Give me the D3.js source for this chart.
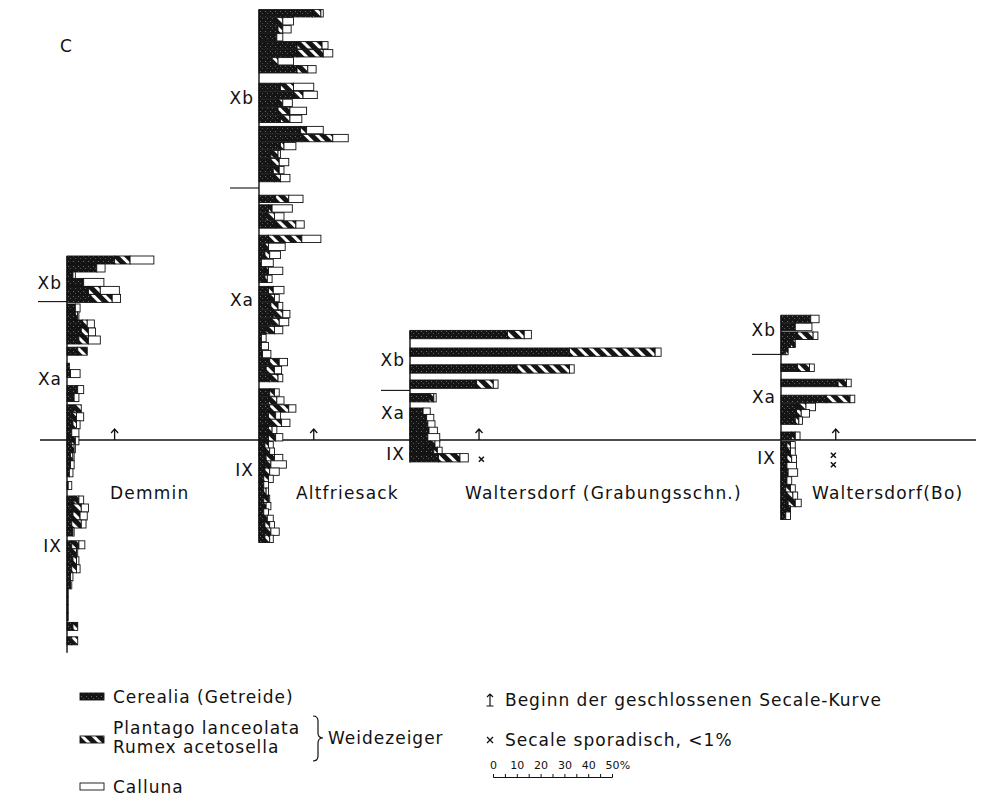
<!DOCTYPE html>
<html>
<head>
<meta charset="utf-8">
<script src="https://cdn.jsdelivr.net/npm/d3@7"></script>
<style>
  body { margin: 0; background: #fff; }
  svg text { font-family: "DejaVu Sans", sans-serif; fill: #111; }
</style>
</head>
<body>
<div id="chart"></div>
<script>
"use strict";

// depth in cm relative to the correlation line (positive = downwards), values in %
const demminDepth = [-115,-110,-105,-101,-96,-91,-85,-80,-75,-70,-65,-58,-48,-44,-34,-29,-22,-17,-12,-7,-2,3,8,13,18,26,35,40,45,50,55,63,68,73,78,83,88,93,98,103,108,114,123];
const demminCerealia = [20,12.5,2.5,7,9,10,3.5,3.5,6.5,6,5,4.5,1,1.5,4.5,3,3,2,2.5,2,2,2,1.5,1.5,1,0.5,3,2.5,2.5,2,2.5,2,2,2.5,2,1.5,1.5,0.5,0.5,0.5,0.5,2.5,2];
const demminWeide = [6.5,0,0,0,5,9,0,1,2,3,4,4,0,0,0,0,3,2,1.5,0,1.5,1,1,0,0,0,2,3.5,3,4,0,3,2,1.5,2,0,0,0,0,0,0,2,2.5];
const demminCalluna = [10,3.5,1,8.5,8,3.5,2,0.5,3,3,5,0,0,4,2.5,2,0,3,1.5,3,1.5,0.5,0.5,1.5,1.5,1.5,2,3,3,2,0.5,2.5,0.5,1,1.5,1,0.5,0,0,0,0,0,0];

const altDepth = [-269,-264,-259,-254,-249,-244,-239,-234,-223,-218,-213,-208,-203,-196,-191,-186,-181,-176,-171,-166,-153,-147,-142,-137,-128,-123,-118,-113,-108,-103,-96,-91,-86,-81,-76,-71,-66,-61,-56,-51,-46,-41,-32,-27,-22,-17.5,-13,-8.5,-4,1,5,9,13,17.5,22,26,30,34.5,39,43,47,51,55,59.5];
const altCerealia = [22.5,7,8,7.5,16,16,5.5,16,9,14.5,8,8,9,17.5,18,9,5,5,6,6.5,7,4,3,7,4,2.5,2.5,1,2.5,2.5,4,4.5,5,6,5,3,1,1,1.5,4.5,3,4.5,4.5,4,4.5,4,4.5,4,4,2.5,2.5,3,3,2.5,2,2,2,2,2,2,2,2.5,2.5,2.5];
const altWeide = [3.5,3,2,0,10.5,11,2.5,4.5,5.5,4,2,5,4,2.5,13,1.5,3,3.5,2.5,2.5,5.5,1.5,3.5,8.5,14,1.5,2,0,1.5,1,2,2,3,4,3.5,3.5,0,0,0,4,3.5,3.5,2,3.5,8,3,5,1.5,3,1.5,2,3.5,2,2,2,0,1,2,1,0,1.5,2,2.5,2];
const altCalluna = [1,4.5,3.5,2.5,2.5,4,6.5,3.5,8.5,6,4,7,5,7,6.5,5,1,4,2,4,6,8.5,4,3.5,8,7,4.5,5,6,2,4.5,2,2,3,4,3.5,2,3,3.5,3.5,3,2,2,3,3,2,3.5,2,3,2,2,3.5,6.5,4,2,2,1,0.5,2,2,2.5,2,3.5,1.5];

const wgDepth = [-68.5,-57.5,-47,-37.5,-29,-20,-16,-12,-8,-4,0.5,4.5,8.5];
const wgCerealia = [41,67,45,28,8,5.5,7,7.5,8,7.5,8.5,10,12];
const wgWeide = [7,36,22,7,2,0,0,0,0,0,2,1.5,9];
const wgCalluna = [3,2.5,2,2,1,3,3,3,3.5,5,2,2,3.5];

const boDepth = [-78,-73,-67.5,-62.5,-58,-47.5,-38,-28,-23,-19,-14.5,-5,1,5,9.5,14,18,23,28,32.5,37,41,45];
const boCerealia = [12.5,6,7,4,2,7,24,19,7,6.5,6,4.5,2.5,2.5,2.5,2.5,3,2.5,2,2.5,3,2.5,2];
const boWeide = [0,0,6.5,2,1,5,3.5,10,3.5,2,1.5,1.5,1.5,1.5,2,0,0,0,2,2.5,3,1.5,0];
const boCalluna = [3.5,7,2,0,0,2,2,2,4,3.5,1.5,2,2,2,2,4,4,2,2,2,2.5,0,2];

const profileNames = ["Demmin", "Altfriesack", "Waltersdorf (Grabungsschn.)", "Waltersdorf(Bo)"];
const zoneNames = ["Xb", "Xa", "IX"];
const scaleTicks = [0, 10, 20, 30, 40, 50];

// layout
const width = 992, height = 797;
const baseY = 440;
const y = d3.scaleLinear().domain([0, 100]).range([baseY, baseY + 160]);
const pct = d3.scaleLinear().domain([0, 50]).range([0, 119]);

const profiles = [
  { name: profileNames[0], axisX: 67, depth: demminDepth, cer: demminCerealia, wei: demminWeide, cal: demminCalluna,
    thick: 5, extent: [-115, 133], boundary: -86.5, zones: [-98, -38, 66], labelX: 43, arrow: 20, crosses: [] },
  { name: profileNames[1], axisX: 259, depth: altDepth, cer: altCerealia, wei: altWeide, cal: altCalluna,
    thick: 4.6, extent: [-269, 64], boundary: -157.5, zones: [-214, -87.5, 19], labelX: 37, arrow: 23, crosses: [] },
  { name: profileNames[2], axisX: 410, depth: wgDepth, cer: wgCerealia, wei: wgWeide, cal: wgCalluna,
    thick: 5.2, extent: [-68.5, 14], boundary: -31, zones: [-50, -17, 9], labelX: 55, arrow: 29, crosses: [[30, 12]] },
  { name: profileNames[3], axisX: 781, depth: boDepth, cer: boCerealia, wei: boWeide, cal: boCalluna,
    thick: 4.7, extent: [-78, 50], boundary: -53.5, zones: [-69, -27, 11], labelX: 31, arrow: 23, crosses: [[22, 9.5], [22, 15.5]] }
];

const svg = d3.select("#chart").append("svg")
  .attr("width", width).attr("height", height);

// fill patterns
const defs = svg.append("defs");
const stip = defs.append("pattern").attr("id", "stipple")
  .attr("width", 5).attr("height", 5).attr("patternUnits", "userSpaceOnUse");
stip.append("rect").attr("width", 5).attr("height", 5).attr("fill", "#151515");
stip.append("rect").attr("x", 1).attr("y", 1).attr("width", 1).attr("height", 1).attr("fill", "#6a6a6a");
stip.append("rect").attr("x", 3).attr("y", 3).attr("width", 1).attr("height", 1).attr("fill", "#555");
const hatch = defs.append("pattern").attr("id", "hatch")
  .attr("width", 8).attr("height", 8).attr("patternUnits", "userSpaceOnUse")
  .attr("patternTransform", "rotate(-45)");
hatch.append("rect").attr("width", 8).attr("height", 8).attr("fill", "#151515");
hatch.append("rect").attr("width", 3).attr("height", 8).attr("fill", "#fff");

const fills = ["url(#stipple)", "url(#hatch)", "#fff"];

svg.append("text").attr("x", 60).attr("y", 52).attr("font-size", 17).text("C");

// correlation line
svg.append("line").attr("x1", 40).attr("x2", 976).attr("y1", baseY).attr("y2", baseY)
  .attr("stroke", "#111").attr("stroke-width", 1.3);

profiles.forEach(function (p) {
  const g = svg.append("g").attr("transform", "translate(" + p.axisX + ",0)");

  // stacked segments
  const segs = p.depth.flatMap(function (d, i) {
    const vals = [p.cer[i], p.wei[i], p.cal[i]];
    let acc = 0;
    return vals.map(function (v, k) {
      const s = { d: d, x0: acc, v: v, k: k };
      acc += v;
      return s;
    }).filter(function (s) { return s.v > 0; });
  });

  g.selectAll(".seg").data(segs).enter().append("rect")
    .attr("class", "seg")
    .attr("x", function (s) { return pct(s.x0); })
    .attr("y", function (s) { return y(s.d); })
    .attr("width", function (s) { return pct(s.v); })
    .attr("height", function (s) { return y(s.d + p.thick) - y(s.d); })
    .attr("fill", function (s) { return fills[s.k]; })
    .attr("stroke", "#111").attr("stroke-width", 0.9);

  // profile axis
  g.append("line").attr("x1", 0).attr("x2", 0)
    .attr("y1", y(p.extent[0])).attr("y2", y(p.extent[1]))
    .attr("stroke", "#111").attr("stroke-width", 1.4);

  // zone boundary
  g.append("line").attr("x1", -29).attr("x2", 0)
    .attr("y1", y(p.boundary)).attr("y2", y(p.boundary))
    .attr("stroke", "#111").attr("stroke-width", 1.1);

  // zone labels
  g.selectAll(".zone").data(zoneNames).enter().append("text")
    .attr("class", "zone")
    .attr("x", -5)
    .attr("y", function (z, i) { return y(p.zones[i]); })
    .attr("dy", "0.35em")
    .attr("text-anchor", "end")
    .attr("font-size", 17)
    .attr("letter-spacing", 1)
    .text(function (z) { return z; });

  // start of Secale curve
  const ax = pct(p.arrow);
  g.append("path")
    .attr("d", "M" + ax + "," + baseY + "V" + (baseY - 11) +
      "M" + (ax - 3.5) + "," + (baseY - 7) + "L" + ax + "," + (baseY - 11) + "L" + (ax + 3.5) + "," + (baseY - 7))
    .attr("fill", "none").attr("stroke", "#111").attr("stroke-width", 1.3);

  // sporadic Secale
  p.crosses.forEach(function (c) {
    const cx = pct(c[0]), cy = y(c[1]);
    g.append("path")
      .attr("d", "M" + (cx - 2.5) + "," + (cy - 2.5) + "L" + (cx + 2.5) + "," + (cy + 2.5) +
        "M" + (cx + 2.5) + "," + (cy - 2.5) + "L" + (cx - 2.5) + "," + (cy + 2.5))
      .attr("stroke", "#111").attr("stroke-width", 1.5);
  });

  // name
  g.append("text").attr("x", p.labelX).attr("y", 499)
    .attr("font-size", 17).attr("letter-spacing", 1.2)
    .text(p.name);
});

// legend
const legend = svg.append("g");
const legFont = 17;
const legItems = [
  { fill: fills[0], y: 693, lines: ["Cerealia (Getreide)"], base: [703] },
  { fill: fills[1], y: 736, lines: ["Plantago lanceolata", "Rumex acetosella"], base: [734, 753] },
  { fill: fills[2], y: 783, lines: ["Calluna"], base: [793] }
];
legItems.forEach(function (it) {
  legend.append("rect").attr("x", 80).attr("y", it.y).attr("width", 24).attr("height", 7)
    .attr("fill", it.fill).attr("stroke", "#111").attr("stroke-width", 0.9);
  it.lines.forEach(function (t, j) {
    legend.append("text").attr("x", 113).attr("y", it.base[j])
      .attr("font-size", legFont).attr("letter-spacing", 1).text(t);
  });
});
// brace
legend.append("path")
  .attr("d", "M313,716 Q318,716 318,721 V733 Q318,738 323,738 Q318,738 318,743 V756 Q318,761 313,761")
  .attr("fill", "none").attr("stroke", "#111").attr("stroke-width", 1.2);
legend.append("text").attr("x", 328).attr("y", 744).attr("font-size", legFont)
  .attr("letter-spacing", 1).text("Weidezeiger");

// symbols legend
legend.append("path")
  .attr("d", "M490,706V694M487,697L490,694L493,697M486.5,706H493.5")
  .attr("fill", "none").attr("stroke", "#111").attr("stroke-width", 1.2);
legend.append("text").attr("x", 505).attr("y", 706).attr("font-size", legFont)
  .attr("letter-spacing", 1).text("Beginn der geschlossenen Secale-Kurve");
legend.append("path")
  .attr("d", "M487,737L493,743M493,737L487,743")
  .attr("stroke", "#111").attr("stroke-width", 1.3);
legend.append("text").attr("x", 505).attr("y", 746).attr("font-size", legFont)
  .attr("letter-spacing", 1).text("Secale sporadisch, <1%");

// percentage scale bar
const sb = legend.append("g").attr("transform", "translate(493,777)");
const sbAxis = d3.axisTop(pct).tickValues(d3.range(0, 51, 5)).tickSize(3).tickPadding(5)
  .tickFormat(function (d) { return scaleTicks.indexOf(d) >= 0 ? d : ""; });
sb.call(sbAxis);
sb.select(".domain").attr("stroke", "#111");
sb.selectAll(".tick line").attr("stroke", "#111");
sb.selectAll(".tick text").attr("font-size", 11).attr("font-family", "DejaVu Sans").attr("fill", "#111");
sb.append("text").attr("x", pct(50) + 13).attr("y", -8).attr("font-size", 11).text("%");
</script>
</body>
</html>
